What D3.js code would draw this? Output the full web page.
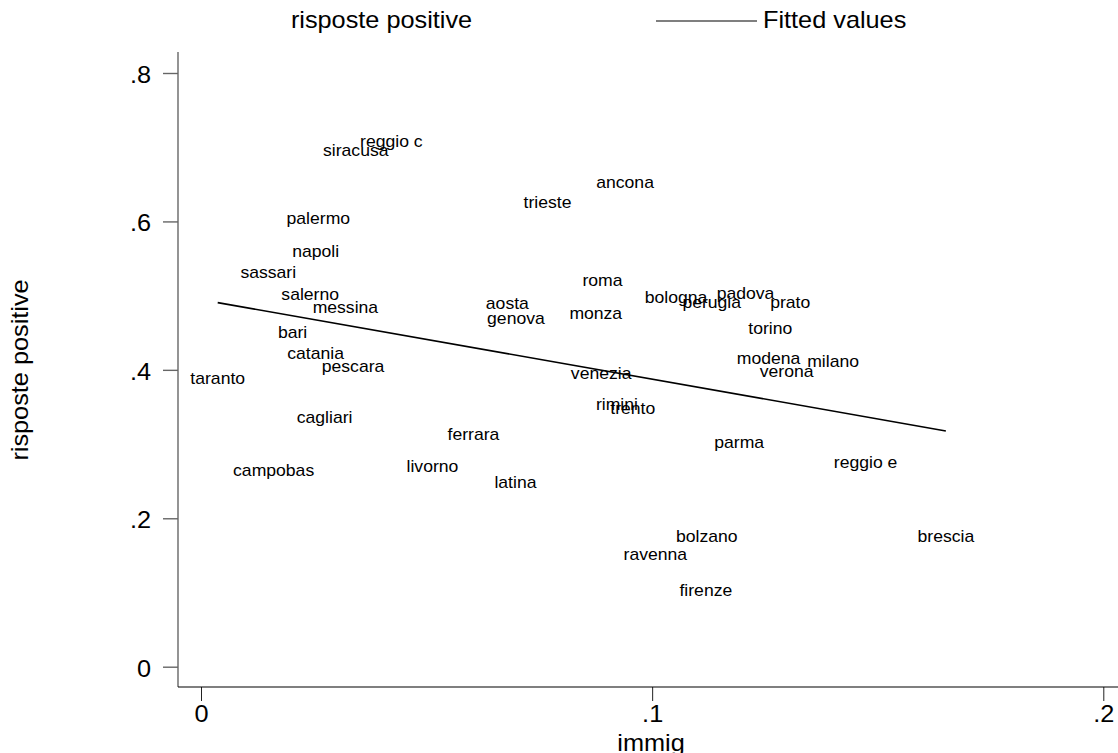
<!DOCTYPE html>
<html>
<head>
<meta charset="utf-8">
<script src="https://cdn.jsdelivr.net/npm/d3@7/dist/d3.min.js"></script>
<style>
  html, body { margin: 0; padding: 0; background: #fff; }
  svg { display: block; }
  text { font-family: "Liberation Sans", Arial, Helvetica, sans-serif; fill: #000; }
</style>
</head>
<body>
<svg id="chart" width="1118" height="753"></svg>
<script>
// City labels and their values: share of immigrants (immig) and share of positive answers
const cities = ["reggio c", "siracusa", "palermo", "napoli", "sassari", "salerno", "messina",
  "bari", "catania", "pescara", "taranto", "cagliari", "campobas", "livorno",
  "ancona", "trieste", "roma", "aosta", "genova", "monza", "bologna", "perugia",
  "padova", "prato", "torino", "modena", "milano", "verona", "venezia", "rimini",
  "trento", "ferrara", "latina", "parma", "reggio e", "bolzano", "ravenna", "firenze", "brescia"];
const immig = [0.0422, 0.0343, 0.0260, 0.0254, 0.0149, 0.0242, 0.0320,
  0.0203, 0.0254, 0.0337, 0.0037, 0.0274, 0.0161, 0.0513,
  0.0940, 0.0768, 0.0890, 0.0679, 0.0698, 0.0875, 0.1053, 0.1132,
  0.1207, 0.1306, 0.1262, 0.1258, 0.1401, 0.1298, 0.0887, 0.0922,
  0.0957, 0.0604, 0.0697, 0.1193, 0.1473, 0.1121, 0.1007, 0.1119, 0.1651];
const risposte = [0.708, 0.696, 0.604, 0.559, 0.531, 0.502, 0.484,
  0.450, 0.422, 0.405, 0.389, 0.336, 0.265, 0.270,
  0.652, 0.626, 0.521, 0.490, 0.470, 0.476, 0.497, 0.491,
  0.503, 0.491, 0.456, 0.416, 0.412, 0.398, 0.395, 0.353,
  0.348, 0.313, 0.249, 0.302, 0.275, 0.175, 0.152, 0.103, 0.176];

// Linear fit endpoints (fitted values at the smallest and largest immig)
const fitX = [0.0037, 0.1651];
const fitY = [0.4906, 0.3177];

// Axis ticks
const xTicks = [0, 0.1, 0.2];
const xTickLabels = ["0", ".1", ".2"];
const yTicks = [0, 0.2, 0.4, 0.6, 0.8];
const yTickLabels = ["0", ".2", ".4", ".6", ".8"];

const svg = d3.select("#chart");
const W = 1118, H = 753;
svg.append("rect").attr("width", W).attr("height", H).attr("fill", "#fff");

const plot = { left: 178, right: 1118, top: 52, bottom: 687 };
const x = d3.scaleLinear().domain([0, 0.2]).range([201, 1103.3]);
const y = d3.scaleLinear().domain([0, 0.8]).range([666.7, 73]);
const stretch = "scale(1.1,1)";

// Y axis
const yAxis = svg.append("g")
  .attr("transform", `translate(${plot.left},0)`)
  .call(d3.axisLeft(y).tickValues(yTicks)
    .tickFormat((d, i) => yTickLabels[i]).tickSize(15).tickSizeOuter(0));
yAxis.select(".domain").remove();
yAxis.selectAll(".tick line").attr("stroke", "#666").attr("stroke-width", 1.4);
yAxis.selectAll(".tick text")
  .attr("x", null).attr("dy", null)
  .attr("transform", "translate(-27,9.5) " + stretch)
  .attr("text-anchor", "end")
  .style("font-size", "23px");
svg.append("line")
  .attr("x1", plot.left).attr("x2", plot.left)
  .attr("y1", plot.top).attr("y2", plot.bottom)
  .attr("stroke", "#666").attr("stroke-width", 1.4);

// X axis
const xAxis = svg.append("g")
  .attr("transform", `translate(0,${plot.bottom})`)
  .call(d3.axisBottom(x).tickValues(xTicks)
    .tickFormat((d, i) => xTickLabels[i]).tickSize(14).tickSizeOuter(0));
xAxis.select(".domain").remove();
xAxis.selectAll(".tick line").attr("stroke", "#222").attr("stroke-width", 1);
xAxis.selectAll(".tick text")
  .attr("y", null).attr("dy", null)
  .attr("transform", "translate(0,35) " + stretch)
  .attr("text-anchor", "middle")
  .style("font-size", "23px");
svg.append("line")
  .attr("x1", plot.left).attr("x2", plot.right)
  .attr("y1", plot.bottom).attr("y2", plot.bottom)
  .attr("stroke", "#000").attr("stroke-width", 1.2);

// Axis titles
svg.append("text")
  .attr("transform", `translate(651,751) ${stretch}`)
  .attr("text-anchor", "middle")
  .style("font-size", "23px")
  .text("immig");
svg.append("text")
  .attr("transform", `translate(28,370) rotate(-90) ${stretch}`)
  .attr("text-anchor", "middle")
  .style("font-size", "23px")
  .text("risposte positive");

// Fitted line
const fitData = fitX.map((v, i) => [v, fitY[i]]);
svg.append("path")
  .datum(fitData)
  .attr("d", d3.line().x(d => x(d[0])).y(d => y(d[1])))
  .attr("fill", "none").attr("stroke", "#000").attr("stroke-width", 1.6);

// City labels centred on each point
svg.append("g").selectAll("text")
  .data(cities.map((c, i) => ({ name: c, xv: immig[i], yv: risposte[i] })))
  .join("text")
  .attr("transform", d => `translate(${x(d.xv)},${y(d.yv)}) ${stretch}`)
  .attr("dy", "0.35em")
  .attr("text-anchor", "middle")
  .style("font-size", "16px")
  .text(d => d.name);

// Legend
const legend = svg.append("g");
legend.append("text")
  .attr("transform", `translate(381.5,28) ${stretch}`)
  .attr("text-anchor", "middle")
  .style("font-size", "23px")
  .text("risposte positive");
legend.append("line")
  .attr("x1", 656).attr("x2", 757).attr("y1", 21).attr("y2", 21)
  .attr("stroke", "#555").attr("stroke-width", 1.4);
legend.append("text")
  .attr("transform", `translate(763,28) ${stretch}`)
  .attr("text-anchor", "start")
  .style("font-size", "23px")
  .text("Fitted values");
</script>
</body>
</html>
